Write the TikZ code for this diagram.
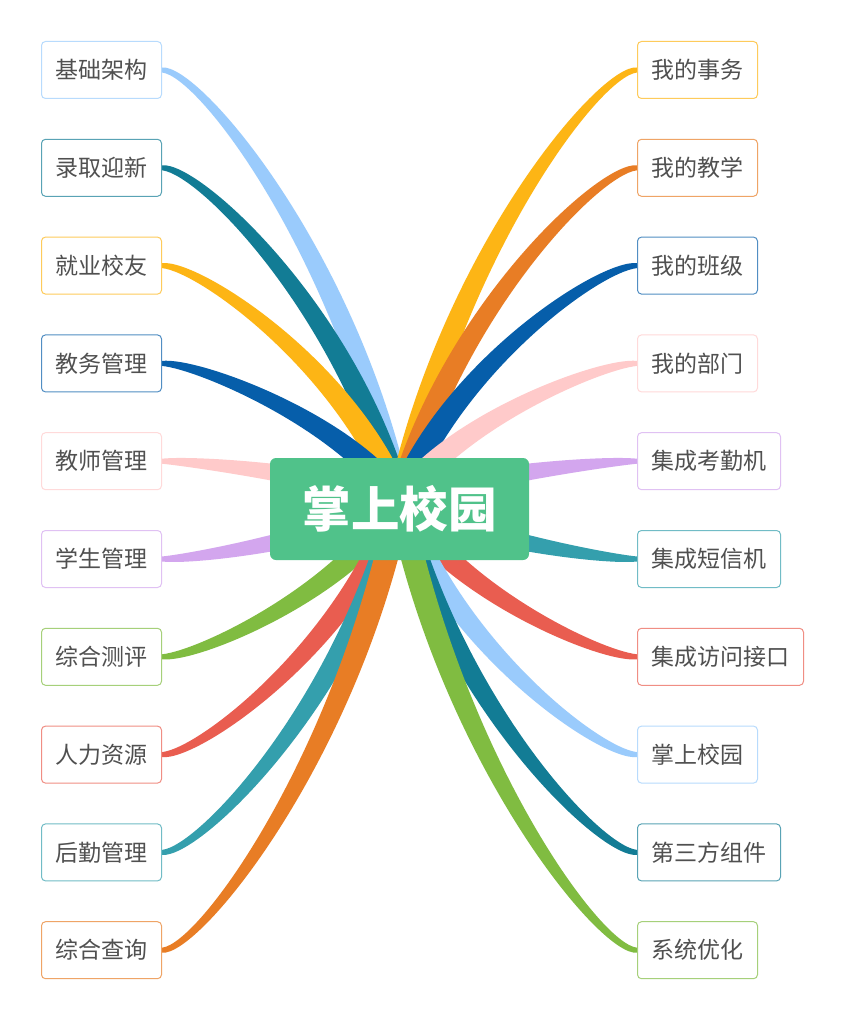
\documentclass[tikz,border=0pt]{standalone}
\usepackage{fontspec}
\setmainfont{Noto Sans CJK SC}
\usetikzlibrary{calc,backgrounds}
\definecolor{cLB}{HTML}{9ACBFC}
\definecolor{cTe}{HTML}{127C95}
\definecolor{cAm}{HTML}{FDB515}
\definecolor{cBl}{HTML}{065EAA}
\definecolor{cPk}{HTML}{FFCACA}
\definecolor{cLv}{HTML}{D3A6EE}
\definecolor{cGr}{HTML}{80BC41}
\definecolor{cRd}{HTML}{E95D50}
\definecolor{cCy}{HTML}{349FAD}
\definecolor{cOr}{HTML}{E87D25}
\definecolor{cMain}{HTML}{50C28A}
\definecolor{txt}{HTML}{505050}
\newcommand\ribbon[3]{%
\fill[#1] let \p0=(#2), \p3=(#3),
 \n{dx}={\x3-\x0}, \n{dy}={\y3-\y0},
 \n{ax}={0.22*\n{dx}}, \n{ay}={0.57*\n{dy}},
 \n{l}={veclen(\n{ax},\n{ay})},
 \n{nx}={-\n{ay}/\n{l}*12}, \n{ny}={\n{ax}/\n{l}*12},
 \n{s}={\n{dx}>0?2.5:-2.5},
 \n{m}={\n{dx}>0?6.5:-6.5}
in ({\x0+\n{nx}},{\y0+\n{ny}}) .. controls ({\x0+\n{ax}+\n{nx}},{\y0+\n{ay}+\n{ny}}) and ({\x3-0.16*\n{dx}},{\y3+\n{m}}) .. ({\x3},{\y3+\n{s}})
 -- ({\x3},{\y3-\n{s}}) .. controls ({\x3-0.16*\n{dx}},{\y3-\n{m}}) and ({\x0+\n{ax}-\n{nx}},{\y0+\n{ay}-\n{ny}}) .. ({\x0-\n{nx}},{\y0-\n{ny}}) -- cycle;}
\begin{document}
\begin{tikzpicture}[x=1pt,y=-1pt,
  leaf/.style={draw=#1!70, fill=white, rounded corners=4pt, line width=1pt,
    minimum height=57pt, inner xsep=14pt, inner ysep=0pt,
    text height=20.2pt, text depth=2.8pt,
    font=\fontsize{23}{23}\selectfont, text=txt},
  mainbox/.style={fill=cMain, rounded corners=6pt, minimum width=259pt,
    minimum height=102pt, inner sep=0pt, text=white,
    text height=42.6pt, text depth=5.8pt,
    font=\fontsize{48.5}{48.5}\selectfont\bfseries}]
\useasboundingbox (0,0) rectangle (848,1024);
% centre
\node[mainbox] (c) at (399.5,509) {掌上校园};
\coordinate (hub) at ([yshift=8pt]c.center);
% left leaves
\node[leaf=cLB, anchor=east] (l1) at (162,70) {基础架构};
\node[leaf=cTe, anchor=east] (l2) at (162,167.8) {录取迎新};
\node[leaf=cAm, anchor=east] (l3) at (162,265.6) {就业校友};
\node[leaf=cBl, anchor=east] (l4) at (162,363.4) {教务管理};
\node[leaf=cPk, anchor=east] (l5) at (162,461.2) {教师管理};
\node[leaf=cLv, anchor=east] (l6) at (162,559) {学生管理};
\node[leaf=cGr, anchor=east] (l7) at (162,656.8) {综合测评};
\node[leaf=cRd, anchor=east] (l8) at (162,754.6) {人力资源};
\node[leaf=cCy, anchor=east] (l9) at (162,852.4) {后勤管理};
\node[leaf=cOr, anchor=east] (l10) at (162,950.2) {综合查询};
% right leaves
\node[leaf=cAm, anchor=west] (r1) at (637,70) {我的事务};
\node[leaf=cOr, anchor=west] (r2) at (637,167.8) {我的教学};
\node[leaf=cBl, anchor=west] (r3) at (637,265.6) {我的班级};
\node[leaf=cPk, anchor=west] (r4) at (637,363.4) {我的部门};
\node[leaf=cLv, anchor=west] (r5) at (637,461.2) {集成考勤机};
\node[leaf=cCy, anchor=west] (r6) at (637,559) {集成短信机};
\node[leaf=cRd, anchor=west] (r7) at (637,656.8) {集成访问接口};
\node[leaf=cLB, anchor=west] (r8) at (637,754.6) {掌上校园};
\node[leaf=cTe, anchor=west] (r9) at (637,852.4) {第三方组件};
\node[leaf=cGr, anchor=west] (r10) at (637,950.2) {系统优化};
\begin{pgfonlayer}{background}
\fill[white] (0,0) rectangle (848,1024);
\ribbon{cLB}{hub}{l1.east}
\ribbon{cTe}{hub}{l2.east}
\ribbon{cAm}{hub}{l3.east}
\ribbon{cBl}{hub}{l4.east}
\ribbon{cPk}{hub}{l5.east}
\ribbon{cLv}{hub}{l6.east}
\ribbon{cGr}{hub}{l7.east}
\ribbon{cRd}{hub}{l8.east}
\ribbon{cCy}{hub}{l9.east}
\ribbon{cOr}{hub}{l10.east}
\ribbon{cAm}{hub}{r1.west}
\ribbon{cOr}{hub}{r2.west}
\ribbon{cBl}{hub}{r3.west}
\ribbon{cPk}{hub}{r4.west}
\ribbon{cLv}{hub}{r5.west}
\ribbon{cCy}{hub}{r6.west}
\ribbon{cRd}{hub}{r7.west}
\ribbon{cLB}{hub}{r8.west}
\ribbon{cTe}{hub}{r9.west}
\ribbon{cGr}{hub}{r10.west}
\end{pgfonlayer}
\end{tikzpicture}
\end{document}
